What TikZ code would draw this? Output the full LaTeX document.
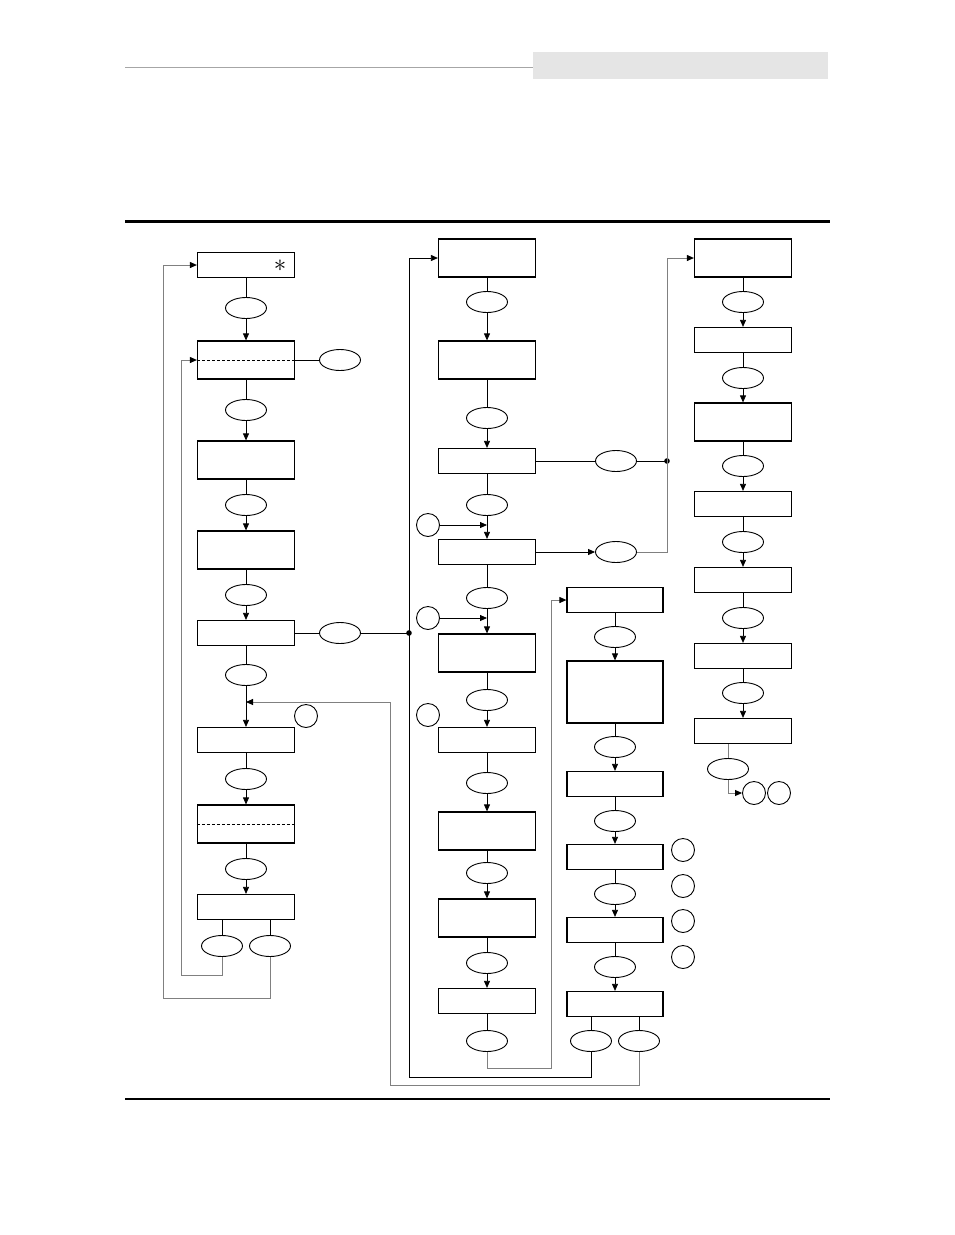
\documentclass[tikz,border=0pt]{standalone}
\usepackage{tikz}
\usetikzlibrary{arrows.meta,shapes.geometric}

\begin{document}
\begin{tikzpicture}[x=1pt, y=-1pt, line join=miter,
  box/.style={draw, line width=1.2pt, minimum width=97pt, minimum height=25pt, inner sep=0pt},
  tallbox/.style={box, minimum height=38pt},
  keyoval/.style={draw, ellipse, line width=0.9pt, minimum width=41pt, minimum height=21pt, inner sep=0pt},
  refdot/.style={draw, circle, line width=0.9pt, minimum size=23pt, inner sep=0pt},
  wire/.style={line width=0.8pt},
  backline/.style={draw=black!50, line width=0.9pt},
  >={Triangle[length=7pt,width=6pt,black]}]
\useasboundingbox (0,0) rectangle (954,1235);
% page head
\draw[black!35, line width=1pt] (125,67) -- (533,67);
\fill[black!10] (533,52) rectangle (828,79);
\draw[line width=3pt] (125,221) -- (830,221);
\draw[line width=1.8pt] (125,1099) -- (830,1099);

% left column
\node[box] (a1) at (246,265) {};
\node (star) at (280,266) {\fontsize{24}{24}\selectfont$\ast$};
\node[keyoval] (ka1) at (246,308) {};
\node[tallbox] (a2) at (246,360) {};
\node[keyoval] (ka2) at (246,410) {};
\node[tallbox] (a3) at (246,460) {};
\node[keyoval] (ka3) at (246,505) {};
\node[tallbox] (a4) at (246,550) {};
\node[keyoval] (ka4) at (246,595) {};
\node[box] (a5) at (246,633) {};
\node[keyoval] (ka5) at (246,675) {};
\node[box] (a6) at (246,740) {};
\node[keyoval] (ka6) at (246,779) {};
\node[tallbox] (a7) at (246,824) {};
\node[keyoval] (ka7) at (246,869) {};
\node[box] (a8) at (246,907) {};
\node[keyoval] (ka8) at (222,946) {};
\node[keyoval] (ka9) at (270,946) {};
\node[keyoval] (sa2) at (340,360) {};
\node[keyoval] (sa5) at (340,633) {};
\node[refdot] (ra6) at (306,716) {};
\draw[wire, dash pattern=on 3pt off 2pt] (a2.west) -- (a2.east);
\draw[wire, dash pattern=on 3pt off 2pt] (a7.west) -- (a7.east);

% middle column
\node[tallbox] (b1) at (487,258) {};
\node[keyoval] (kb1) at (487,302) {};
\node[tallbox] (b2) at (487,360) {};
\node[keyoval] (kb2) at (487,418) {};
\node[box] (b3) at (487,461) {};
\node[keyoval] (kb3) at (487,505) {};
\node[box] (b4) at (487,552) {};
\node[keyoval] (kb4) at (487,598) {};
\node[tallbox] (b5) at (487,653) {};
\node[keyoval] (kb5) at (487,700) {};
\node[box] (b6) at (487,740) {};
\node[keyoval] (kb6) at (487,783) {};
\node[tallbox] (b7) at (487,831) {};
\node[keyoval] (kb7) at (487,873) {};
\node[tallbox] (b8) at (487,918) {};
\node[keyoval] (kb8) at (487,963) {};
\node[box] (b9) at (487,1001) {};
\node[keyoval] (kb9) at (487,1041) {};
\node[keyoval] (sb3) at (616,461) {};
\node[keyoval] (sb4) at (616,552) {};
\node[refdot] (rb4) at (428,525) {};
\node[refdot] (rb5) at (428,618) {};
\node[refdot] (rb6) at (428,715) {};

% third column
\node[box, minimum width=96pt] (c1) at (615,600) {};
\node[keyoval] (kc1) at (615,637) {};
\node[box, minimum width=96pt, minimum height=62pt] (c2) at (615,692) {};
\node[keyoval] (kc2) at (615,747) {};
\node[box, minimum width=96pt] (c3) at (615,784) {};
\node[keyoval] (kc3) at (615,821) {};
\node[box, minimum width=96pt] (c4) at (615,857) {};
\node[keyoval] (kc4) at (615,894) {};
\node[box, minimum width=96pt] (c5) at (615,930) {};
\node[keyoval] (kc5) at (615,967) {};
\node[box, minimum width=96pt] (c6) at (615,1004) {};
\node[keyoval] (kc6) at (591,1041) {};
\node[keyoval] (kc7) at (639,1041) {};
\foreach \i/\y in {1/850,2/886,3/921,4/957}
  \node[refdot] (rc\i) at (683,\y) {};

% right column
\node[tallbox] (d1) at (743,258) {};
\node[keyoval] (kd1) at (743,302) {};
\node[box] (d2) at (743,340) {};
\node[keyoval] (kd2) at (743,378) {};
\node[tallbox] (d3) at (743,422) {};
\node[keyoval] (kd3) at (743,466) {};
\node[box] (d4) at (743,504) {};
\node[keyoval] (kd4) at (743,542) {};
\node[box] (d5) at (743,580) {};
\node[keyoval] (kd5) at (743,618) {};
\node[box] (d6) at (743,656) {};
\node[keyoval] (kd6) at (743,693) {};
\node[box] (d7) at (743,731) {};
\node[keyoval] (kd7) at (728,769) {};
\node[refdot] (rd1) at (754,793) {};
\node[refdot] (rd2) at (779,793) {};

% straight chains
\foreach \u/\k/\v in {a1/ka1/a2, a2/ka2/a3, a3/ka3/a4, a4/ka4/a5, a6/ka6/a7, a7/ka7/a8,
  b1/kb1/b2, b2/kb2/b3, b3/kb3/b4, b4/kb4/b5, b5/kb5/b6, b6/kb6/b7, b7/kb7/b8, b8/kb8/b9,
  c1/kc1/c2, c2/kc2/c3, c3/kc3/c4, c4/kc4/c5, c5/kc5/c6,
  d1/kd1/d2, d2/kd2/d3, d3/kd3/d4, d4/kd4/d5, d5/kd5/d6, d6/kd6/d7} {
  \draw[wire] (\u) -- (\k);
  \draw[wire,->] (\k) -- (\v);
}
\draw[wire] (a5) -- (ka5);
\draw[wire,->] (ka5) -- (a6);
\draw[wire] (b9) -- (kb9);
\draw[wire] (ka8 |- a8.south) -- (ka8);
\draw[wire] (ka9 |- a8.south) -- (ka9);
\draw[wire] (kc6 |- c6.south) -- (kc6);
\draw[wire] (kc7 |- c6.south) -- (kc7);

% side branches
\coordinate (ja) at (409,633);
\coordinate (jd) at (667,461);
\draw[wire] (a2.east) -- (sa2);
\draw[wire] (a5.east) -- (sa5) -- (ja);
\draw[wire] (b3.east) -- (sb3) -- (jd);
\draw[wire,->] (b4.east) -- (sb4);
\fill (ja) circle (2.8pt);
\fill (jd) circle (2.8pt);
\draw[wire,->] (rb4) -- (rb4 -| b4.north);
\draw[wire,->] (rb5) -- (rb5 -| b5.north);

% loops back
\coordinate (la) at (181,975);
\coordinate (lb) at (163,998);
\coordinate (lc) at (409,1077);
\coordinate (ld) at (390,1085);
\coordinate (le) at (551,1068);
\coordinate (lf) at (667,552);
\coordinate (mid) at (246,702);
\draw[backline,->] (ka8) |- (la) |- (a2.west);
\draw[backline,->] (ka9) |- (lb) |- (a1.west);
\draw[wire,->] (kc6) |- (lc) |- (b1.west);
\draw[backline,->] (kc7) |- (ld) |- (mid);
\draw[backline,->] (kb9) |- (le) |- (c1.west);
\draw[backline,->] (sb4) -- (lf) |- (d1.west);
\draw[backline] (kd7 |- d7.south) -- (kd7);
\draw[backline,->] (kd7) |- (rd1);
\end{tikzpicture}
\end{document}
